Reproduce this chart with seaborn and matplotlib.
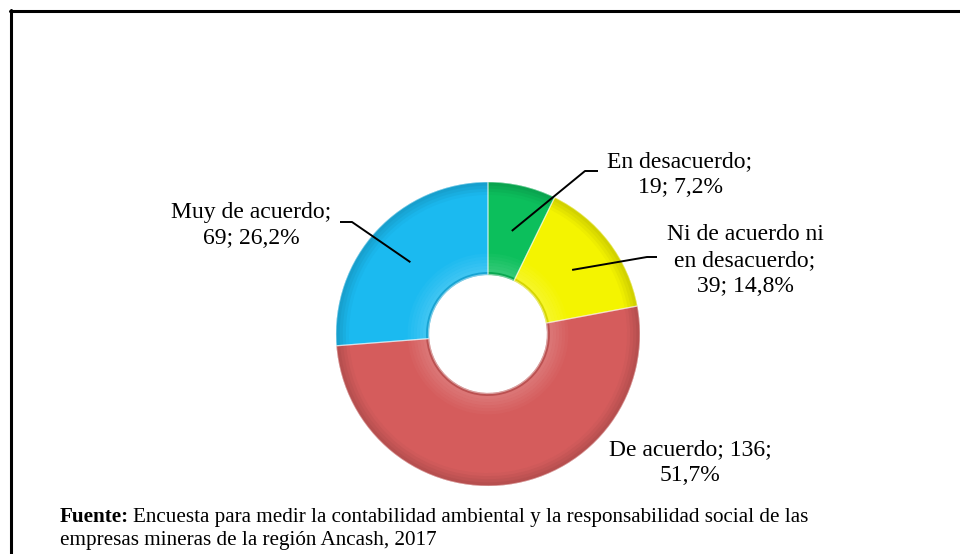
import numpy as np
import matplotlib
matplotlib.use("Agg")
import matplotlib.pyplot as plt
from matplotlib.lines import Line2D
from matplotlib.colors import to_rgb
import seaborn as sns

# ---- data ----
categories = ["En desacuerdo", "Ni de acuerdo ni en desacuerdo", "De acuerdo", "Muy de acuerdo"]
counts = [19, 39, 136, 69]
labels = [
    "En desacuerdo;\n19; 7,2%",
    "Ni de acuerdo ni\nen desacuerdo;\n39; 14,8%",
    "De acuerdo; 136;\n51,7%",
    "Muy de acuerdo;\n69; 26,2%",
]
colors = ["#0CBF5C", "#F4F400", "#D55C5C", "#1BBAF0"]
source_bold = "Fuente:"
source_text = ["Encuesta para medir la contabilidad ambiental y la responsabilidad social de las",
               "empresas mineras de la región Ancash, 2017"]

# ---- layout (pixels, y from top) ----
W, H = 960, 554
cx, cy = 488, 334
R_out, R_in = 152, 59.5
label_pos = [(680, 167), (745, 240), (690, 455), (251, 218)]   # first-line baseline
has_leader = [True, True, False, True]
leader_elbow = [((598, 171), (585, 171)), ((657, 257), (647, 257)), None, ((340, 222), (352, 222))]
line_step = 26

sns.set_theme(style="white")
plt.rcParams['font.family'] = ['Liberation Serif', 'DejaVu Serif']
plt.rcParams['text.color'] = 'black'

fig = plt.figure(figsize=(W / 100, H / 100), dpi=100)
ax = fig.add_axes([0, 0, 1, 1])

def Y(y):
    return H - y

def shade(col, f):
    c = np.array(to_rgb(col))
    if f >= 0:
        return tuple(c + (1 - c) * f)
    return tuple(c * (1 + f))

# base donut
ax.pie(counts, colors=colors, startangle=90, counterclock=False,
       radius=R_out, center=(cx, Y(cy)),
       wedgeprops=dict(width=R_out - R_in, edgecolor='none', linewidth=0))

# soft bevel: concentric rings drawn with the same data
n = 30
edges = np.linspace(R_in, R_out, n + 1)
for k in range(n):
    t = (k + 0.5) / n
    if t < 0.04:
        f = -0.12
    elif t < 0.25:
        f = 0.16 * (1 - (t - 0.04) / 0.21)
    elif t > 0.86:
        f = -0.16 * (t - 0.86) / 0.14
    else:
        f = 0.0
    ring_cols = [shade(c, f) for c in colors]
    ax.pie(counts, colors=ring_cols, startangle=90, counterclock=False,
           radius=edges[k + 1], center=(cx, Y(cy)),
           wedgeprops=dict(width=edges[k + 1] - edges[k] + 0.6, edgecolor='none', linewidth=0))

# slice boundaries
ax.pie(counts, colors=['none'] * 4, startangle=90, counterclock=False,
       radius=R_out, center=(cx, Y(cy)),
       wedgeprops=dict(width=R_out - R_in, edgecolor=(1, 1, 1, 0.45), linewidth=0.9, fill=False))

ax.set_xlim(0, W)
ax.set_ylim(0, H)
ax.set_aspect('auto')
ax.axis('off')

# labels and leader lines
total = sum(counts)
start = 90.0
r_mid = (R_out + R_in) / 2
for i, (c, lab) in enumerate(zip(counts, labels)):
    span = 360.0 * c / total
    mid = np.deg2rad(start - span / 2)
    start -= span
    x0, y0 = label_pos[i]
    for j, line in enumerate(lab.split("\n")):
        ax.text(x0, Y(y0 + j * line_step), line, ha='center', va='baseline',
                fontsize=17, color='black')
    if has_leader[i]:
        ax_pt = (cx + r_mid * np.cos(mid), Y(cy) + r_mid * np.sin(mid))
        (ex1, ey1), (ex2, ey2) = leader_elbow[i]
        ax.plot([ex1, ex2, ax_pt[0]], [Y(ey1), Y(ey2), ax_pt[1]], color='black', lw=1.4,
                solid_capstyle='butt')

# source note
fig.canvas.draw()
fs = 15.2
t = ax.text(60, Y(522), source_bold, fontsize=fs, fontweight='bold', ha='left', va='baseline',
            color='black')
fig.canvas.draw()
bb = t.get_window_extent()
ax.text(bb.x1 + 4, Y(522), source_text[0], fontsize=fs, ha='left', va='baseline', color='black')
ax.text(60, Y(545), source_text[1], fontsize=fs, ha='left', va='baseline', color='black')

# frame (top and left border)
ax.add_line(Line2D([9.5, W], [Y(10.5), Y(10.5)], color='black', lw=2.2, clip_on=False))
ax.add_line(Line2D([10.5, 10.5], [Y(9.5), 0], color='black', lw=2.2, clip_on=False))

fig.savefig("out.png", dpi=100)
